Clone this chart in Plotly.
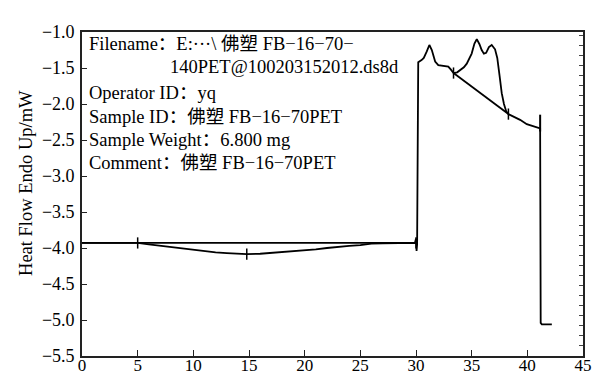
import plotly.graph_objects as go

# DSC curve (time / min vs heat flow / mW)
curve_x = [0, 5, 6, 7, 8, 9, 10, 11, 12, 13, 14, 14.8, 16, 17, 18, 19, 20, 21, 22, 23, 24, 25, 26, 27, 28, 29, 29.9,
           30.0, 30.05, 30.1, 30.15, 30.2, 30.5, 30.7, 30.97, 31.2, 31.42, 31.72, 32.0, 32.46, 32.9, 33.12, 33.37,
           33.7, 33.96, 34.3, 34.56, 35.0, 35.25, 35.46, 35.7, 35.9, 36.1, 36.3, 36.55, 36.8, 37.1, 37.3, 37.5,
           37.7, 37.9, 38.1, 38.3, 38.8, 39.35, 39.95, 40.5, 41.15, 41.2, 41.3, 42.2]
curve_y = [-3.93, -3.93, -3.95, -3.97, -3.99, -4.01, -4.03, -4.05, -4.06, -4.07, -4.08, -4.085, -4.08, -4.07, -4.06,
           -4.05, -4.04, -4.02, -4.00, -3.98, -3.97, -3.96, -3.94, -3.935, -3.93, -3.93, -3.93,
           -3.87, -4.04, -3.95, -1.60, -1.42, -1.39, -1.36, -1.27, -1.18, -1.25, -1.41, -1.46, -1.47, -1.48, -1.52, -1.57,
           -1.56, -1.53, -1.49, -1.44, -1.30, -1.16, -1.10, -1.17, -1.25, -1.30, -1.29, -1.21, -1.18, -1.24, -1.36, -1.60,
           -1.85, -2.00, -2.10, -2.14, -2.18, -2.22, -2.28, -2.31, -2.34, -5.04, -5.06, -5.06]

# integration baselines
base1_x = [0, 30]
base1_y = [-3.93, -3.93]
base2_x = [33.37, 38.3]
base2_y = [-1.57, -2.14]

# integration limit markers
mark_x = [5, 14.8, 30, 33.37, 38.3]
mark_y = [-3.93, -4.085, -3.93, -1.57, -2.14]
mark_big_x = [41.15]
mark_big_y = [-2.265]

x_ticks = [0, 5, 10, 15, 20, 25, 30, 35, 40, 45]
y_ticks = [-1.0, -1.5, -2.0, -2.5, -3.0, -3.5, -4.0, -4.5, -5.0, -5.5]
right_ticks = [-5.5 + 0.139 * i for i in range(33)]

info_lines = [
    "Filename：E:···\\ 佛塑 FB−16−70−",
    "140PET@100203152012.ds8d",
    "Operator ID：yq",
    "Sample ID：佛塑 FB−16−70PET",
    "Sample Weight：6.800 mg",
    "Comment：佛塑 FB−16−70PET",
]
y_title = "Heat Flow Endo Up/mW"

FONT = "Liberation Serif, Times New Roman, Noto Sans CJK SC, serif"
L, R, T, B = 82, 14.3, 32, 20
W, H = 597, 376
pw, ph = W - L - R, H - T - B

def px_to_paper(px, py):
    return (px - L) / pw, (H - B - py) / ph

fig = go.Figure()
line = dict(color="black", width=1.8)
fig.add_trace(go.Scatter(x=base1_x, y=base1_y, mode="lines", line=line))
fig.add_trace(go.Scatter(x=base2_x, y=base2_y, mode="lines", line=line))
fig.add_trace(go.Scatter(x=curve_x, y=curve_y, mode="lines", line=line))
fig.add_trace(go.Scatter(x=mark_x, y=mark_y, mode="markers",
                         marker=dict(symbol="line-ns-open", size=8, color="black",
                                     line=dict(color="black", width=1.5))))
fig.add_trace(go.Scatter(x=mark_big_x, y=mark_big_y, mode="markers",
                         marker=dict(symbol="line-ns-open", size=12, color="black",
                                     line=dict(color="black", width=2))))
# invisible copy on the right-hand axis so its tick marks are drawn
fig.add_trace(go.Scatter(x=curve_x, y=curve_y, yaxis="y2", mode="lines",
                         line=dict(width=1, color="rgba(0,0,0,0)"), hoverinfo="skip"))

annos = []
positions = [(87, 44), (168, 67), (87, 93), (87, 117), (87, 140), (87, 163)]
for txt, (px, py) in zip(info_lines, positions):
    ax, ay = px_to_paper(px, py)
    annos.append(dict(text=txt, x=ax, y=ay, xref="paper", yref="paper", xanchor="left", yanchor="middle",
                      showarrow=False, font=dict(family=FONT, size=18.5, color="black")))
tx, ty = px_to_paper(26, 183)
annos.append(dict(text=y_title, x=tx, y=ty, xref="paper", yref="paper", xanchor="center", yanchor="middle",
                  textangle=-90, showarrow=False, font=dict(family=FONT, size=18.5, color="black")))

fig.update_layout(
    width=W, height=H, margin=dict(l=L, r=R, t=T, b=B, pad=0),
    paper_bgcolor="white", plot_bgcolor="white", showlegend=False,
    font=dict(family=FONT, size=18, color="black"),
    xaxis=dict(range=[0, 45], tickvals=x_ticks, ticktext=[str(v) for v in x_ticks],
               tickfont=dict(size=17),
               ticks="inside", ticklen=6, tickwidth=1.2, tickcolor="#222",
               showline=True, linecolor="#222", linewidth=1.6, mirror=True,
               showgrid=False, zeroline=False, ticklabelstandoff=-7, automargin=False),
    yaxis=dict(range=[-5.5, -1.0], tickvals=y_ticks, ticktext=[f"{v:.1f}".replace("-", "−") for v in y_ticks],
               ticks="inside", ticklen=5, tickwidth=1.2, tickcolor="#222",
               showline=True, linecolor="#222", linewidth=1.6, mirror=True,
               showgrid=False, zeroline=False, ticklabelstandoff=2, automargin=False),
    yaxis2=dict(range=[-5.5, -1.0], overlaying="y", side="right", anchor="x",
                tickmode="array", tickvals=right_ticks,
                ticks="inside", ticklen=4, tickwidth=1.2, tickcolor="#444",
                showticklabels=False, showgrid=False, zeroline=False,
                showline=True, linecolor="#222", linewidth=1.6, automargin=False),
    annotations=annos,
)

fig.write_html("out.html")
